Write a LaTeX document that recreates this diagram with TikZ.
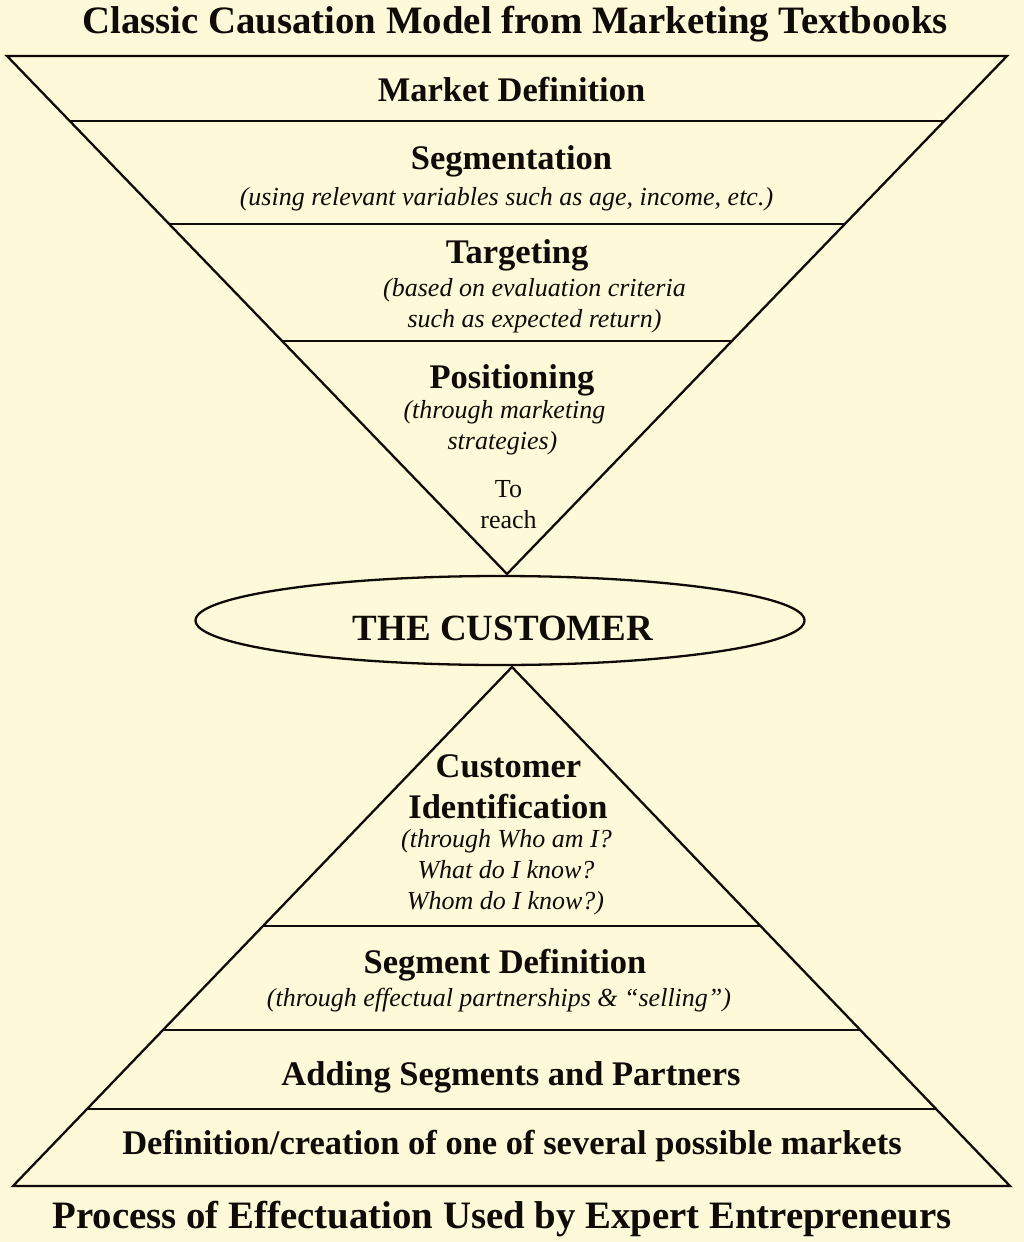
\documentclass[tikz,border=0pt]{standalone}
\usepackage{fontspec}
\setmainfont{Liberation Serif}
\usetikzlibrary{shapes.geometric, calc}
\definecolor{paper}{RGB}{254,249,216}
\definecolor{ink}{RGB}{14,11,8}

\begin{document}
\begin{tikzpicture}[x=1pt, y=-1pt, line width=2.3pt, draw=ink, text=ink,
  head/.style={anchor=base, inner sep=0pt, font=\fontsize{34.5}{40}\selectfont\bfseries},
  banner/.style={anchor=base, inner sep=0pt, font=\fontsize{38.8}{44}\selectfont\bfseries},
  note/.style={anchor=base, inner sep=0pt, font=\fontsize{26}{31}\selectfont\itshape},
  plain/.style={anchor=base, inner sep=0pt, font=\fontsize{26}{31}\selectfont}]
  \fill[paper] (0,0) rectangle (1024,1242);
  \useasboundingbox (0,0) rectangle (1024,1242);
  % Causation funnel
  \coordinate (tl) at (7,56);
  \coordinate (tr) at (1007,56);
  \coordinate (tapex) at (507,574);
  \draw[line join=miter] (tl) -- (tr) -- (tapex) -- cycle;
  \foreach \t in {0.1255,0.3243,0.5502}
    \draw ($(tl)!\t!(tapex)$) -- ($(tr)!\t!(tapex)$);
  \node[banner] (title) at (515,33) {Classic Causation Model from Marketing Textbooks};
  \node[head] (mktdef) at (511.5,101) {Market Definition};
  \node[head] (segm) at (511.5,169) {Segmentation};
  \node[note] (segmnote) at (506.5,205) {(using relevant variables such as age, income, etc.)};
  \node[head] (target) at (517,263) {Targeting};
  \node[note] (targetA) at (534.5,296) {(based on evaluation criteria};
  \node[note] (targetB) at (534.5,327) {such as expected return)};
  \node[head] (posit) at (512,388) {Positioning};
  \node[note] (positA) at (504.5,418) {(through marketing};
  \node[note] (positB) at (502.5,449) {strategies)};
  \node[plain] (toA) at (508.5,497) {To};
  \node[plain] (toB) at (508.5,528) {reach};
  % Customer
  \node[ellipse, draw, minimum width=609, minimum height=89, inner sep=0pt] (cust) at (500,620.5) {};
  \node[anchor=base, inner sep=0pt, font=\fontsize{37}{42}\selectfont\bfseries] (custtxt) at (503,640) {THE CUSTOMER};
  % Effectuation pyramid
  \coordinate (bapex) at (512,667);
  \coordinate (bl) at (13,1186);
  \coordinate (br) at (1010,1186);
  \draw[line join=miter] (bapex) -- (br) -- (bl) -- cycle;
  \foreach \t in {0.499,0.6994,0.8516}
    \draw ($(bapex)!\t!(bl)$) -- ($(bapex)!\t!(br)$);
  \node[head] (custid) at (508.5,777) {Customer};
  \node[head] (custidB) at (508,818) {Identification};
  \node[note] (custidC) at (506.5,847) {(through Who am I?};
  \node[note] (custidD) at (506,878) {What do I know?};
  \node[note] (custidE) at (505.5,909) {Whom do I know?)};
  \node[head] (segdef) at (505,973) {Segment Definition};
  \node[note] (segdefnote) at (499,1006) {(through effectual partnerships \& “selling”)};
  \node[head] (adding) at (511,1085) {Adding Segments and Partners};
  \node[head] (markets) at (512,1154) {Definition/creation of one of several possible markets};
  \node[banner] (footer) at (502,1228) {Process of Effectuation Used by Expert Entrepreneurs};
\end{tikzpicture}
\end{document}
